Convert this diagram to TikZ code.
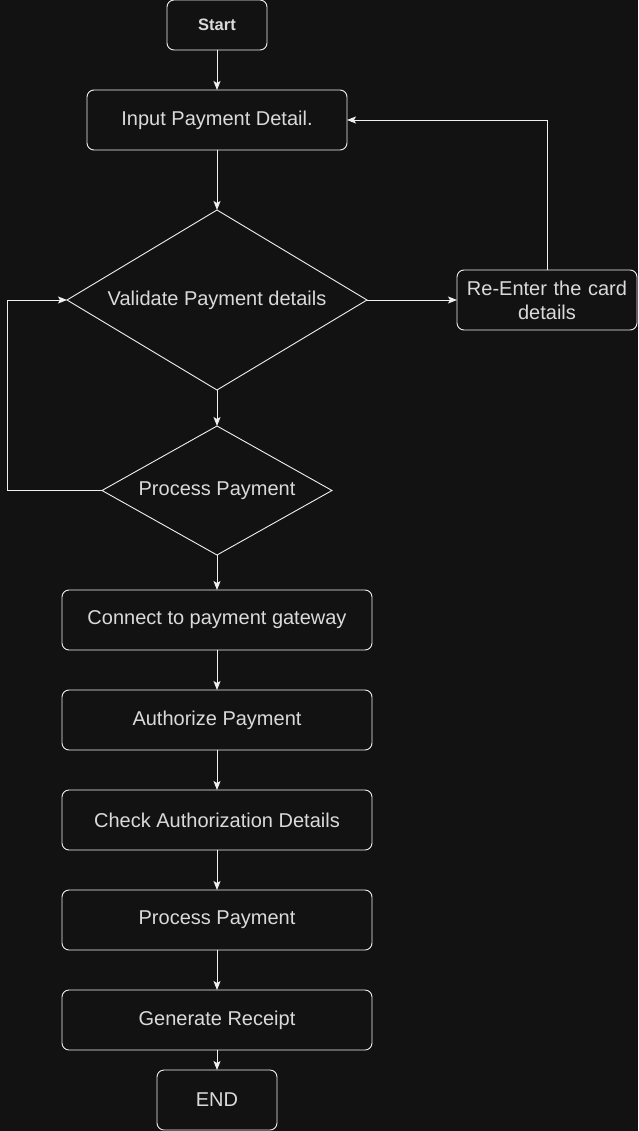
\documentclass[tikz,border=0pt]{standalone}
\usepackage{fontspec}
\setmainfont{Liberation Sans}
\usetikzlibrary{shapes.geometric, arrows.meta, positioning}

\definecolor{bgdark}{HTML}{121212}
\definecolor{edgewhite}{HTML}{F0F0F0}
\definecolor{textgray}{HTML}{DADADA}

\begin{document}
\begin{tikzpicture}[
		x=1pt, y=1pt,
		>={Stealth[length=9pt, width=7pt, inset=2pt]},
		node distance=40pt,
		font=\fontsize{20}{23}\selectfont,
		% Estilos de los bloques
		block/.style={draw=edgewhite, rectangle, rounded corners=7pt, line width=0.9pt, text=textgray, minimum height=60pt, minimum width=310pt, align=center, inner sep=0pt, outer sep=0pt},
		decision/.style={draw=edgewhite, diamond, line width=0.9pt, text=textgray, inner sep=0pt, outer sep=0pt, align=center},
		line/.style={draw=edgewhite, line width=0.9pt, ->}
		]

		% fondo y margenes
		\fill[bgdark] (0,0) rectangle (638,-1131);
		\useasboundingbox (0,0) rectangle (638,-1131);

		% --- NODOS ---
		\node [block, minimum width=100pt, minimum height=50pt, font=\fontsize{16.5}{20}\selectfont\bfseries] (start) at (217,-25) {Start};
		\node [block, below=40pt of start, minimum width=260pt] (input) {Input Payment Detail.};
		\node [decision, below=60pt of input, minimum width=300pt, minimum height=180pt, shape aspect=1.667] (validate) {Validate Payment details};
		\node [block, right=90pt of validate, minimum width=180pt, text width=180pt, font=\fontsize{20}{24}\selectfont] (reenter) {Re-Enter the card\\details};
		\node [decision, below=36pt of validate, minimum width=230pt, minimum height=129pt, shape aspect=1.78] (check) {Process Payment};
		\node [block, below=35pt of check] (gateway) {Connect to payment gateway};
		\node [block, below of=gateway, node distance=100pt] (authorize) {Authorize Payment};
		\node [block, below of=authorize, node distance=100pt] (authdetails) {Check Authorization Details};
		\node [block, below of=authdetails, node distance=100pt] (process) {Process Payment};
		\node [block, below of=process, node distance=100pt] (receipt) {Generate Receipt};
		\node [block, below=20pt of receipt, minimum width=120pt] (finish) {END};

		% --- LINEAS DIRECTAS ---
		\draw [line] (start) -- (input);
		\draw [line] (input) -- (validate);
		\draw [line] (validate) -- (check);
		\draw [line] (check) -- (gateway);
		\draw [line] (gateway) -- (authorize);
		\draw [line] (authorize) -- (authdetails);
		\draw [line] (authdetails) -- (process);
		\draw [line] (process) -- (receipt);
		\draw [line] (receipt) -- (finish);
		\draw [line] (validate.east) -- (reenter.west);

		% --- LAZOS ---
		\draw [line] (reenter.north) |- (input.east);
		\coordinate (loopleft) at (7,0);
		\draw [line] (check.west) -| (loopleft |- check.west) |- (validate.west);

	\end{tikzpicture}
\end{document}
